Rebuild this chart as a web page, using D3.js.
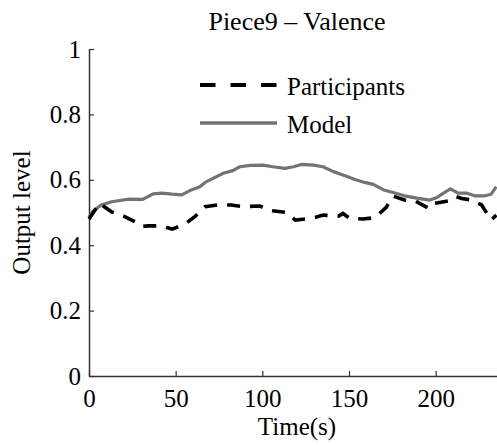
<!DOCTYPE html>
<html>
<head>
<meta charset="utf-8">
<script src="https://cdn.jsdelivr.net/npm/d3@7"></script>
<style>
  html, body { margin: 0; padding: 0; background: #fff; }
  svg { display: block; }
</style>
</head>
<body>
<svg id="chart" width="497" height="445"></svg>
<script>
// Continuous valence ratings over time for Piece 9
const modelTime = [0, 2, 7, 13, 23, 31, 37, 42, 48, 53.5, 59, 64, 67, 73, 77.5, 83, 87, 93, 100.5, 106, 113, 118, 122.5, 129.5, 135, 141, 146.5, 153.5, 159, 164, 170, 175.5, 182, 190, 196.5, 200.5, 204.5, 208.5, 213, 218, 222.5, 228.5, 232, 235];
const modelValues = [0.485, 0.502, 0.523, 0.533, 0.541, 0.540, 0.557, 0.559, 0.556, 0.554, 0.569, 0.579, 0.592, 0.608, 0.620, 0.628, 0.640, 0.644, 0.645, 0.640, 0.635, 0.640, 0.647, 0.645, 0.640, 0.625, 0.615, 0.601, 0.592, 0.586, 0.569, 0.561, 0.551, 0.543, 0.538, 0.545, 0.559, 0.572, 0.559, 0.559, 0.551, 0.551, 0.556, 0.579];

const participantTime = [0, 6, 13, 20, 27.5, 30.5, 34, 42, 48, 55.5, 61, 67, 74, 82, 89, 98.5, 104.5, 114, 119, 128.5, 135, 144, 146.5, 150.5, 158, 165, 171.5, 175.5, 182, 188, 196, 198.5, 201.5, 210, 212, 215, 221, 226.5, 232, 235];
const participantValues = [0.48, 0.528, 0.502, 0.489, 0.469, 0.457, 0.459, 0.459, 0.449, 0.465, 0.487, 0.518, 0.523, 0.523, 0.518, 0.520, 0.506, 0.500, 0.477, 0.482, 0.492, 0.489, 0.497, 0.482, 0.480, 0.484, 0.516, 0.550, 0.538, 0.536, 0.513, 0.528, 0.530, 0.538, 0.548, 0.543, 0.538, 0.523, 0.477, 0.492];

const xTicks = [0, 50, 100, 150, 200];
const yTicks = [0, 0.2, 0.4, 0.6, 0.8, 1];
const yTickLabels = ["0", "0.2", "0.4", "0.6", "0.8", "1"];

const titleText = "Piece9 \u2013 Valence";
const xLabel = "Time(s)";
const yLabel = "Output level";
const seriesNames = ["Participants", "Model"];

const serif = "'Liberation Serif', 'Times New Roman', serif";
const svg = d3.select("#chart");
const plotLeft = 89, plotRight = 505, plotTop = 49, plotBottom = 376;
const fontSize = 25;

const x = d3.scaleLinear().domain([0, 240]).range([plotLeft, plotRight]);
const y = d3.scaleLinear().domain([0, 1]).range([plotBottom, plotTop]);

// Axes: MATLAB-style inward ticks, no box
const gx = svg.append("g")
  .attr("transform", `translate(0,${plotBottom})`)
  .call(d3.axisBottom(x).tickValues(xTicks).tickSizeInner(-5).tickSizeOuter(0).tickPadding(13));
const gy = svg.append("g")
  .attr("transform", `translate(${plotLeft},0)`)
  .call(d3.axisLeft(y).tickValues(yTicks).tickFormat((d, i) => yTickLabels[i])
    .tickSizeInner(-5).tickSizeOuter(0).tickPadding(8));

[gx, gy].forEach(g => {
  g.attr("font-family", serif).attr("font-size", fontSize);
  g.select(".domain").attr("stroke", "#333").attr("stroke-width", 1.5);
  g.selectAll(".tick line").attr("stroke", "#333").attr("stroke-width", 1.2);
  g.selectAll(".tick text").attr("fill", "#000")
    .attr("font-family", serif).attr("font-size", fontSize);
});

// Series lines
const line = d3.line().x(d => x(d[0])).y(d => y(d[1]));
const modelData = modelTime.map((t, i) => [t, modelValues[i]]);
const partData = participantTime.map((t, i) => [t, participantValues[i]]);

svg.append("path")
  .datum(modelData)
  .attr("d", line)
  .attr("fill", "none")
  .attr("stroke", "#737373")
  .attr("stroke-width", 3.2)
  .attr("stroke-linejoin", "round");

svg.append("path")
  .datum(partData)
  .attr("d", line)
  .attr("fill", "none")
  .attr("stroke", "#000")
  .attr("stroke-width", 3.6)
  .attr("stroke-dasharray", "13,10");

// Title and axis labels
svg.append("text")
  .attr("x", 297).attr("y", 30)
  .attr("text-anchor", "middle")
  .attr("font-family", serif).attr("font-size", 26)
  .text(titleText);

svg.append("text")
  .attr("x", 297).attr("y", 435)
  .attr("text-anchor", "middle")
  .attr("font-family", serif).attr("font-size", fontSize)
  .text(xLabel);

svg.append("text")
  .attr("transform", `translate(30,${(plotTop + plotBottom) / 2}) rotate(-90)`)
  .attr("text-anchor", "middle")
  .attr("font-family", serif).attr("font-size", fontSize)
  .text(yLabel);

// Legend
const legend = svg.append("g");
const legendRows = [
  { name: seriesNames[0], y: 85, stroke: "#000", width: 4, dash: "15.5,15" },
  { name: seriesNames[1], y: 123, stroke: "#737373", width: 3.5, dash: null }
];
legendRows.forEach(r => {
  legend.append("line")
    .attr("x1", 200).attr("x2", 277)
    .attr("y1", r.y).attr("y2", r.y)
    .attr("stroke", r.stroke)
    .attr("stroke-width", r.width)
    .attr("stroke-dasharray", r.dash);
  legend.append("text")
    .attr("x", 287).attr("y", r.y + 10)
    .attr("font-family", serif).attr("font-size", fontSize)
    .text(r.name);
});
</script>
</body>
</html>
